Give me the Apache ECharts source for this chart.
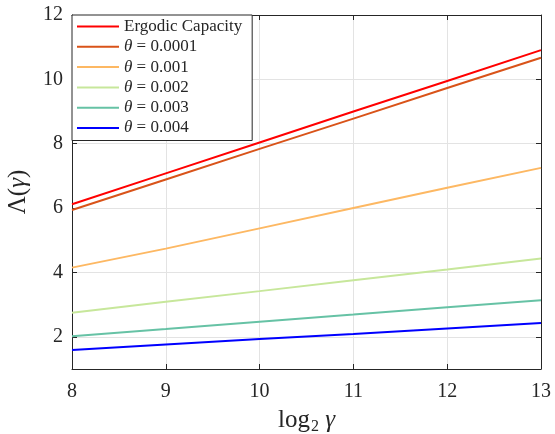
<!DOCTYPE html>
<html>
<head>
    <meta charset="utf-8">
    <title>Lambda vs log2 gamma</title>
    <script src="https://cdn.jsdelivr.net/npm/echarts@6/dist/echarts.min.js"></script>
    <style>
        html, body { margin: 0; padding: 0; background: #fff; }
        #chart { width: 555px; height: 434px; }
    </style>
</head>
<body>
    <div id="chart"></div>
    <script>
        var logGamma = [8, 9, 10, 11, 12, 13];
        var ergodic = [6.12, 7.08, 8.04, 9.00, 9.95, 10.91];
        var theta00001 = [5.94, 6.89, 7.84, 8.78, 9.73, 10.67];
        var theta0001 = [4.15, 4.74, 5.37, 6.00, 6.63, 7.25];
        var theta0002 = [2.75, 3.09, 3.42, 3.76, 4.09, 4.43];
        var theta0003 = [2.02, 2.24, 2.47, 2.69, 2.92, 3.14];
        var theta0004 = [1.59, 1.76, 1.93, 2.09, 2.26, 2.43];
        var yTicks = [2, 4, 6, 8, 10, 12];

        var names = ['Ergodic Capacity', 'θ = 0.0001', 'θ = 0.001', 'θ = 0.002', 'θ = 0.003', 'θ = 0.004'];
        var colors = ['#ff0000', '#d95319', '#fdb863', '#c7e79b', '#66c2a5', '#0000ff'];
        var values = [ergodic, theta00001, theta0001, theta0002, theta0003, theta0004];

        var axisColor = '#262626';
        var font = 'Liberation Serif';

        var series = values.map(function (v, i) {
            return {
                name: names[i],
                type: 'line',
                showSymbol: false,
                symbol: 'none',
                lineStyle: { width: 2, color: colors[i] },
                itemStyle: { color: colors[i] },
                data: logGamma.map(function (x, j) { return [x, v[j]]; })
            };
        });

        var chart = echarts.init(document.getElementById('chart'));
        chart.setOption({
            animation: false,
            grid: { left: 72, right: 14, top: 15, bottom: 65, outerBoundsMode: 'none', containLabel: false },
            legend: {
                left: 72,
                top: 15,
                orient: 'vertical',
                backgroundColor: '#fff',
                borderColor: axisColor,
                borderWidth: 1,
                borderRadius: 0,
                padding: [3, 10, 4, 5],
                itemGap: 3.3,
                itemWidth: 42,
                itemHeight: 2,
                icon: 'rect',
                data: names,
                formatter: function (n) {
                    if (n.indexOf('θ') === 0) {
                        return '{i|θ}{t| = ' + n.slice(4) + '}';
                    }
                    return '{t|' + n + '}';
                },
                textStyle: {
                    fontFamily: font,
                    fontSize: 17,
                    color: axisColor,
                    lineHeight: 17,
                    rich: {
                        i: { fontFamily: font, fontSize: 17, fontStyle: 'italic', color: axisColor, lineHeight: 17 },
                        t: { fontFamily: font, fontSize: 17, color: axisColor, lineHeight: 17 }
                    }
                }
            },
            xAxis: [{
                type: 'value',
                min: 8,
                max: 13,
                interval: 1,
                name: '{n|log}{s|2}{g| γ}',
                nameLocation: 'middle',
                nameGap: 36,
                nameTextStyle: {
                    rich: {
                        n: { fontFamily: font, fontSize: 25, color: axisColor },
                        s: { fontFamily: font, fontSize: 16, color: axisColor, padding: [14, 0, 0, 1] },
                        g: { fontFamily: font, fontSize: 25, fontStyle: 'italic', color: axisColor }
                    }
                },
                axisLine: { onZero: false, lineStyle: { color: axisColor, width: 1 } },
                axisTick: { inside: true, length: 5, lineStyle: { color: axisColor } },
                axisLabel: { fontFamily: font, fontSize: 20, color: axisColor, margin: 13 },
                splitLine: { show: true, lineStyle: { color: '#e3e3e3', width: 1 } }
            }, {
                type: 'value',
                position: 'top',
                min: 8,
                max: 13,
                interval: 1,
                axisLine: { onZero: false, lineStyle: { color: axisColor, width: 1 } },
                axisTick: { inside: true, length: 5, lineStyle: { color: axisColor } },
                axisLabel: { show: false },
                splitLine: { show: false }
            }],
            yAxis: [{
                type: 'value',
                min: 1,
                max: 12,
                name: '{u|Λ(}{g|γ}{u|)}',
                nameLocation: 'middle',
                nameGap: 41,
                nameRotate: 90,
                nameTextStyle: {
                    rich: {
                        u: { fontFamily: font, fontSize: 25, color: axisColor },
                        g: { fontFamily: font, fontSize: 25, fontStyle: 'italic', color: axisColor }
                    }
                },
                axisLine: { onZero: false, lineStyle: { color: axisColor, width: 1 } },
                axisTick: { inside: true, length: 5, customValues: yTicks, lineStyle: { color: axisColor } },
                axisLabel: { fontFamily: font, fontSize: 20, color: axisColor, margin: 9, customValues: yTicks },
                splitLine: { show: true, lineStyle: { color: '#e3e3e3', width: 1 } }
            }, {
                type: 'value',
                position: 'right',
                min: 1,
                max: 12,
                axisLine: { onZero: false, lineStyle: { color: axisColor, width: 1 } },
                axisTick: { inside: true, length: 5, customValues: yTicks, lineStyle: { color: axisColor } },
                axisLabel: { show: false },
                splitLine: { show: false }
            }],
            series: series
        });
    </script>
</body>
</html>
